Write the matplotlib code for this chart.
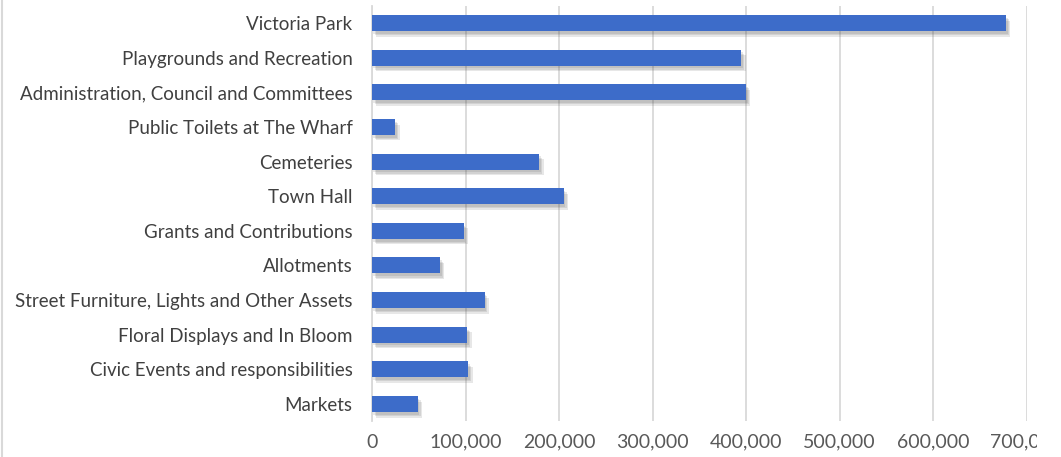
import matplotlib
matplotlib.use("Agg")
import matplotlib.pyplot as plt
import matplotlib.patheffects as pe
from matplotlib.ticker import FuncFormatter
from matplotlib.transforms import Bbox, TransformedBbox

# datos
categorias = [
    "Victoria Park",
    "Playgrounds and Recreation",
    "Administration, Council and Committees",
    "Public Toilets at The Wharf",
    "Cemeteries",
    "Town Hall",
    "Grants and Contributions",
    "Allotments",
    "Street Furniture, Lights and Other Assets",
    "Floral Displays and In Bloom",
    "Civic Events and responsibilities",
    "Markets",
]
valores = [678000, 395000, 400000, 25000, 179000, 205000,
           98000, 73000, 120500, 102000, 103000, 49000]
ticks_x = [0, 100000, 200000, 300000, 400000, 500000, 600000, 700000]

plt.rcParams["font.family"] = ["Lato", "DejaVu Sans"]

fig = plt.figure(figsize=(10.61, 4.57), dpi=100)
ax = fig.add_axes([372 / 1061, 1 - 421.3 / 457, (1026.7 - 372) / 1061, (421.3 - 5.7) / 457])

pos = list(range(len(categorias)))
barras = ax.barh(pos, valores, height=0.46, color="#3D6CC9", zorder=3)
# sombra suave (varias capas)
sombra = [pe.SimplePatchShadow(offset=(o, -o - 1), shadow_rgbFace="#404040", alpha=0.12)
          for o in (3, 2, 1)]
for b in barras:
    b.set_path_effects(sombra + [pe.Normal()])

ax.set_xlim(0, 700000)
ax.set_ylim(len(categorias) - 0.5, -0.5)
ax.set_yticks(pos)
ax.set_yticklabels(categorias)
ax.set_xticks(ticks_x)
ax.xaxis.set_major_formatter(FuncFormatter(lambda v, p: f"{int(v):,}"))

ax.grid(axis="x", color="#D9D9D9", linewidth=1.3, zorder=0)
for s in ["top", "right", "bottom"]:
    ax.spines[s].set_visible(False)
ax.spines["left"].set_color("#D9D9D9")
ax.spines["left"].set_linewidth(1.3)

ax.tick_params(axis="y", length=0, pad=14, labelsize=13.5, labelcolor="#404040")
ax.tick_params(axis="x", length=0, pad=9, labelsize=14, labelcolor="#595959")

# el ultimo rotulo sale cortado en el original
recorte = TransformedBbox(Bbox([[0, 0], [1037 / 1061, 1]]), fig.transFigure)
for lbl in ax.get_xticklabels():
    lbl.set_clip_on(True)
    lbl.set_clip_box(recorte)

# borde izquierdo del marco
fig.add_artist(plt.Line2D([0.0015, 0.0015], [0, 1], transform=fig.transFigure,
                          color="#D9D9D9", linewidth=1.5))

fig.savefig("out.png", dpi=100)
